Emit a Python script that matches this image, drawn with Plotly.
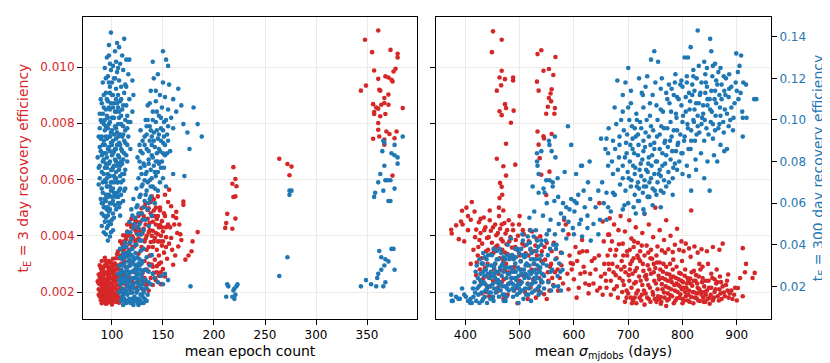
import plotly.graph_objects as go

RED = "#d62728"
BLUE = "#1f77b4"

# efficiencies are typed in small integer units:
#   3 day efficiency in units of 1e-5, 300 day efficiency in units of 1e-3
E3 = 1e-5
E300 = 1e-3

# left panel: (mean epoch count, 3 day efficiency)
left_red = [
    (86, 238), (87, 210), (87, 262), (88, 185), (88, 228), (88, 295), (89, 172), (89, 247), (89, 203),
    (90, 160), (90, 221), (90, 276), (90, 310), (91, 192), (91, 255), (91, 235), (92, 168), (92, 214),
    (92, 289), (92, 181), (93, 246), (93, 199), (93, 322), (94, 158), (94, 227), (94, 268), (94, 205),
    (95, 176), (95, 241), (95, 296), (96, 187), (96, 219), (96, 259), (96, 164), (97, 232), (97, 281),
    (97, 198), (98, 171), (98, 248), (98, 306), (99, 211), (99, 266), (99, 183), (100, 156), (100, 229),
    (100, 292), (100, 203), (101, 176), (101, 251), (101, 318), (102, 195), (102, 237), (102, 275),
    (103, 166), (103, 218), (103, 301), (104, 188), (104, 257), (104, 240), (105, 172), (105, 226),
    (105, 335), (106, 200), (106, 283), (107, 162), (107, 245), (108, 214), (108, 352), (109, 179),
    (109, 268), (110, 232), (110, 371), (111, 195), (112, 309), (89, 285), (91, 174), (93, 268),
    (95, 210), (97, 166), (99, 304), (101, 221), (103, 262), (106, 181), (108, 297),
    (87, 190), (87, 231), (88, 250), (88, 205), (89, 265), (89, 180), (90, 240), (90, 195), (91, 212),
    (91, 280), (91, 165), (92, 230), (92, 262), (93, 180), (93, 222), (93, 295), (94, 190), (94, 245),
    (94, 310), (95, 160), (95, 225), (95, 270), (96, 200), (96, 240), (96, 290), (97, 180), (97, 215),
    (97, 255), (97, 310), (98, 190), (98, 230), (98, 270), (99, 165), (99, 232), (99, 285), (100, 180),
    (100, 250), (100, 270), (101, 195), (101, 235), (101, 285), (102, 170), (102, 215), (102, 255),
    (102, 300), (103, 185), (103, 240), (103, 280), (104, 165), (104, 210), (104, 295), (105, 190),
    (105, 250), (105, 280), (106, 165), (106, 225), (106, 260), (107, 200), (107, 280), (107, 320),
    (108, 180), (108, 240), (108, 330), (109, 200), (109, 300), (110, 170), (110, 260), (111, 230),
    (111, 350), (112, 210), (112, 380), (113, 340), (113, 400), (114, 360), (115, 330), (115, 440),
    (116, 400), (117, 350), (118, 380), (119, 460), (120, 360), (121, 390), (122, 440), (123, 380),
    (124, 410), (125, 430), (126, 390), (127, 420), (128, 450), (129, 360), (130, 410), (131, 470),
    (132, 380), (133, 440), (134, 400), (135, 460), (136, 360), (137, 420), (138, 480), (139, 400),
    (140, 450), (141, 380), (142, 470), (143, 410), (144, 460), (145, 380), (146, 430), (147, 490),
    (148, 400), (149, 430), (150, 380), (151, 480), (153, 430), (136, 300), (138, 330), (140, 290),
    (142, 250), (144, 270), (146, 300), (148, 270), (134, 280), (132, 250), (130, 230),
    (104, 320), (106, 345), (108, 380), (110, 330), (111, 402), (112, 356), (113, 290), (114, 388),
    (115, 415), (116, 342), (117, 372), (118, 440), (119, 305), (120, 398), (121, 426), (122, 362),
    (123, 420), (124, 450), (125, 385), (126, 336), (127, 445), (128, 405), (129, 480), (130, 352),
    (130, 268), (131, 425), (132, 310), (132, 460), (133, 228), (133, 390), (134, 350), (135, 492),
    (135, 275), (136, 412), (136, 205), (137, 330), (137, 445), (138, 250), (138, 378), (139, 298),
    (139, 470), (140, 225), (140, 360), (140, 418), (141, 268), (141, 490), (142, 315), (142, 392),
    (143, 242), (143, 440), (144, 350), (144, 292), (145, 405), (145, 470), (146, 258), (146, 330),
    (147, 380), (147, 438), (148, 305), (148, 228), (149, 365), (149, 452), (150, 282), (150, 415),
    (151, 340), (152, 255), (152, 470), (153, 395), (154, 318), (155, 440), (156, 372), (128, 300),
    (126, 240), (124, 215), (122, 270), (120, 235), (118, 208), (116, 250), (114, 225), (112, 260),
    (131, 205), (134, 225), (127, 478), (119, 430), (117, 410), (123, 455), (129, 498), (126, 470),
    (133, 515), (136, 498), (138, 520), (141, 530), (143, 500), (132, 505), (145, 540), (147, 500),
    (139, 540),
    (152, 546), (156, 564), (155, 520), (158, 505), (160, 470), (161, 440), (163, 463), (164, 410),
    (165, 362), (158, 392), (160, 297), (162, 330), (167, 405), (170, 522), (170, 510), (172, 315),
    (175, 330), (178, 345), (179, 380), (184, 413), (168, 385), (163, 485), (157, 430), (153, 360),
    (166, 440), (159, 350),
    (219, 644), (221, 602), (218, 585), (222, 576), (219, 538), (221, 540), (213, 478), (221, 461),
    (212, 445), (211, 428), (218, 425),
    (264, 674), (272, 655), (276, 646), (274, 615),
    (361, 1130), (348, 1097), (355, 1053), (373, 1061), (380, 1047), (380, 1034), (378, 994), (376, 984),
    (357, 988), (349, 934), (344, 916), (361, 958), (368, 967), (371, 963), (374, 955), (375, 949),
    (371, 902), (367, 890), (362, 919), (363, 916), (359, 856), (361, 852), (357, 840), (357, 833),
    (367, 872), (371, 866), (368, 833), (363, 825), (361, 801), (385, 854), (364, 866), (356, 868),
    (369, 771), (372, 762), (379, 771), (356, 745), (362, 753), (367, 742), (367, 724), (377, 747),
    (375, 614), (361, 777),
]

# left panel: (mean epoch count, 300 day efficiency)
left_blue = [
    (99, 142), (112, 139), (107, 135), (103, 133), (97, 131), (110, 131), (95, 130), (114, 129),
    (104, 128), (101, 126), (108, 127), (93, 125), (99, 124), (105, 123), (111, 124), (116, 122),
    (96, 121), (102, 120), (107, 119), (120, 119), (113, 117), (91, 118), (98, 116), (104, 115),
    (109, 116), (94, 113), (100, 112), (106, 112), (112, 113), (117, 110), (89, 110), (96, 109),
    (102, 108), (108, 109), (114, 107), (92, 106), (98, 105), (104, 104), (110, 105), (88, 103),
    (95, 102), (101, 101), (107, 101), (113, 100), (118, 99), (90, 99), (97, 98), (103, 97), (109, 98),
    (93, 95), (99, 94), (105, 94), (111, 93), (116, 92), (87, 92), (95, 91), (101, 90), (107, 89),
    (113, 89), (91, 88), (97, 87), (103, 86), (109, 86), (89, 85), (94, 84), (100, 83), (106, 83),
    (112, 84), (92, 81), (98, 80), (104, 80), (110, 79), (115, 80), (88, 78), (95, 77), (101, 77),
    (107, 76), (113, 76), (90, 75), (96, 74), (102, 73), (108, 73), (93, 71), (99, 70), (105, 70),
    (111, 71), (87, 69), (95, 68), (101, 67), (107, 66), (91, 65), (97, 64), (103, 64), (109, 64),
    (89, 62), (94, 61), (100, 60), (106, 60), (92, 58), (98, 57), (104, 57), (90, 55), (96, 54),
    (102, 53), (108, 54), (93, 51), (99, 50), (95, 48), (101, 47), (92, 46), (98, 44), (96, 42),
    (86, 82), (120, 104), (118, 86), (115, 96), (94, 97), (100, 101), (106, 98), (98, 92), (104, 91),
    (92, 90), (110, 92), (96, 86), (102, 85), (108, 88), (90, 83), (94, 79), (100, 76), (106, 79),
    (112, 74), (98, 73), (104, 72), (92, 74), (96, 68), (102, 70), (108, 67), (94, 64), (100, 63),
    (106, 63), (98, 60), (103, 59), (91, 60), (95, 57), (101, 55), (97, 51), (94, 53), (99, 46),
    (113, 67), (111, 61), (115, 102), (88, 96), (121, 112), (117, 129), (97, 136), (105, 137),
    (89, 100), (90, 108), (90, 92), (91, 80), (91, 70), (92, 98), (92, 112), (93, 88), (93, 62),
    (93, 77), (94, 105), (94, 92), (95, 82), (95, 72), (95, 110), (96, 96), (96, 63), (97, 79),
    (97, 92), (97, 106), (98, 68), (98, 85), (98, 99), (99, 76), (99, 89), (99, 108), (100, 70),
    (100, 95), (101, 84), (101, 61), (101, 112), (102, 78), (102, 93), (102, 65), (103, 104),
    (103, 81), (103, 72), (104, 96), (104, 86), (104, 63), (105, 78), (105, 108), (105, 88), (106, 70),
    (106, 92), (107, 82), (107, 58), (107, 104), (108, 93), (108, 78), (109, 70), (109, 102), (110, 85),
    (110, 74), (111, 97), (111, 81), (112, 90), (112, 66), (113, 95), (114, 83), (115, 88), (116, 99),
    (90, 67), (92, 54), (94, 70), (96, 58), (97, 118), (100, 118), (103, 120), (94, 120), (98, 127),
    (106, 125), (101, 106), (91, 103), (89, 91), (88, 87), (88, 72), (90, 60), (87, 77), (95, 64),
    (99, 66), (105, 65), (108, 60), (96, 101), (100, 88), (102, 101), (106, 106), (109, 80), (104, 75),
    (98, 113), (92, 84), (93, 100), (109, 110), (111, 107), (114, 116), (104, 110), (90, 49), (94, 45),
    (97, 56), (100, 52), (93, 58), (99, 60), (96, 49),
    (150, 133), (153, 129), (140, 128), (155, 126), (145, 122), (141, 120), (150, 118), (156, 117),
    (165, 115), (138, 114), (147, 112), (152, 111), (143, 109), (160, 110), (135, 107), (149, 106),
    (155, 105), (140, 104), (146, 102), (180, 106), (158, 101), (133, 100), (143, 99), (151, 99),
    (170, 98), (184, 98), (137, 97), (148, 96), (160, 96), (128, 95), (141, 94), (154, 93), (174, 94),
    (132, 92), (145, 91), (137, 90), (150, 89), (127, 88), (142, 87), (134, 86), (147, 85), (130, 84),
    (139, 83), (152, 83), (125, 82), (136, 81), (145, 80), (131, 79), (141, 78), (128, 77), (138, 76),
    (148, 77), (133, 74), (143, 73), (126, 72), (137, 71), (171, 73), (160, 74), (130, 69), (140, 68),
    (124, 67), (134, 66), (145, 66), (128, 64), (138, 63), (121, 62), (132, 61), (142, 60), (125, 59),
    (135, 57), (119, 57), (129, 55), (139, 54), (123, 53), (133, 52), (117, 51), (127, 50), (136, 49),
    (121, 48), (131, 47), (115, 46), (125, 45), (119, 43), (129, 42), (113, 41), (123, 40), (132, 88),
    (146, 93), (155, 90), (136, 79), (127, 80), (150, 72), (139, 88), (129, 74), (144, 84), (134, 97),
    (157, 85), (163, 104), (168, 107), (176, 86), (188, 92),
    (130, 90), (132, 78), (134, 93), (135, 70), (136, 85), (137, 62), (138, 95), (139, 72), (140, 82),
    (141, 90), (142, 67), (143, 80), (144, 95), (145, 75), (146, 86), (147, 70), (148, 90), (149, 80),
    (150, 95), (151, 77), (152, 88), (153, 68), (154, 84), (131, 58), (133, 64), (126, 55), (129, 68),
    (134, 75), (138, 68), (142, 75), (146, 79), (150, 84), (135, 100), (140, 100), (144, 104),
    (148, 101), (153, 100), (137, 108), (143, 114), (127, 63), (122, 50), (124, 58), (130, 52),
    (118, 46), (120, 54), (126, 48), (136, 60), (132, 71), (128, 85), (139, 92), (151, 92), (155, 97),
    (108, 38), (111, 36), (114, 39), (117, 37), (120, 38), (123, 36), (110, 33), (113, 34), (116, 32),
    (119, 35), (122, 33), (125, 34), (128, 37), (107, 30), (109, 28), (112, 31), (115, 29), (118, 30),
    (121, 31), (124, 29), (127, 30), (130, 32), (106, 26), (109, 24), (111, 27), (114, 25), (117, 26),
    (120, 27), (123, 24), (126, 26), (129, 25), (132, 28), (108, 21), (110, 19), (113, 22), (116, 20),
    (118, 23), (121, 21), (124, 22), (127, 20), (130, 21), (133, 23), (107, 17), (110, 15), (112, 18),
    (115, 16), (117, 14), (120, 17), (122, 15), (125, 18), (128, 16), (131, 17), (134, 19), (109, 13),
    (114, 12), (119, 12), (124, 13), (129, 12), (132, 14), (111, 11), (126, 11), (116, 35), (119, 20),
    (112, 14), (122, 19), (118, 17), (125, 24), (115, 23), (128, 28), (113, 27), (120, 24), (126, 14),
    (131, 12), (117, 30), (123, 27), (110, 23), (121, 13), (135, 16), (136, 22), (138, 21), (140, 26),
    (142, 24), (145, 22), (148, 25), (150, 21), (152, 26), (155, 23), (137, 30), (139, 35),
    (108, 34), (109, 26), (110, 30), (111, 22), (112, 35), (113, 17), (114, 29), (115, 20), (116, 27),
    (117, 33), (118, 19), (119, 27), (120, 14), (121, 34), (122, 24), (123, 30), (124, 17), (125, 28),
    (126, 21), (127, 33), (128, 23), (129, 19), (130, 27), (131, 23), (132, 19), (133, 28), (111, 16),
    (113, 13), (116, 13), (118, 12), (121, 11), (123, 14), (125, 12), (128, 13), (130, 15), (134, 13),
    (112, 24), (114, 18), (117, 22), (119, 24), (122, 28), (124, 25), (126, 31), (129, 31), (120, 32),
    (115, 36), (111, 39), (118, 41), (124, 40), (127, 42), (129, 45), (131, 38), (134, 34), (136, 27),
    (109, 18), (107, 23),
    (177, 20), (212, 15), (213, 21), (214, 20), (219, 18), (220, 14), (221, 16), (222, 20), (223, 21),
    (220, 19), (218, 15), (264, 25), (272, 34), (274, 66), (276, 66), (274, 64),
    (344, 20), (349, 23), (354, 21), (359, 20), (360, 24), (361, 26), (364, 28), (367, 30), (371, 32),
    (374, 38), (376, 38), (362, 37), (364, 34), (368, 33), (377, 28), (366, 20), (368, 22), (357, 63),
    (358, 65), (361, 70), (363, 74), (366, 66), (371, 61), (373, 61), (377, 67), (368, 71), (370, 71),
    (380, 79), (380, 82), (377, 88), (367, 89), (365, 85), (374, 84), (377, 83), (385, 92), (366, 90),
    (367, 78), (373, 71),
]

# right panel: (mean sigma_mjdobs in days, 3 day efficiency)
right_red = [
    (451, 1127), (467, 1097), (449, 1053), (467, 987), (463, 963), (473, 957), (488, 963), (488, 952),
    (466, 935), (458, 916), (473, 868), (475, 854), (463, 843), (467, 829), (489, 845), (484, 802),
    (475, 727), (458, 674), (470, 647), (492, 653), (475, 614), (464, 588), (467, 574), (468, 546),
    (463, 534),
    (533, 1046), (540, 1060), (566, 1036), (544, 987), (554, 993), (562, 972), (532, 948), (535, 916),
    (559, 921), (557, 906), (554, 890), (558, 878), (552, 859), (565, 854), (549, 834), (564, 834),
    (533, 771), (544, 754), (545, 746), (559, 762), (535, 724), (537, 676), (540, 617), (555, 628),
    (549, 545),
    (374, 421), (375, 408), (383, 437), (388, 388), (392, 451), (394, 489), (402, 500), (405, 470),
    (410, 457), (417, 486), (420, 422), (418, 395), (425, 448), (428, 410), (431, 372), (434, 465),
    (437, 430), (440, 392), (442, 350), (445, 455), (447, 418), (449, 375), (452, 340), (455, 440),
    (457, 402), (459, 365), (462, 470), (464, 425), (466, 388), (468, 350), (470, 312), (472, 445),
    (474, 408), (476, 370), (478, 335), (480, 455), (483, 395), (486, 358), (488, 420), (490, 325),
    (493, 385), (496, 350), (499, 440), (502, 310), (505, 372), (508, 405), (511, 338), (514, 295),
    (517, 380), (520, 350), (523, 415), (526, 300), (529, 365), (532, 330), (535, 280), (538, 398),
    (541, 345), (544, 262), (547, 315), (550, 375), (553, 240), (556, 290), (559, 345), (562, 225),
    (565, 270), (568, 320), (571, 205), (574, 250), (577, 295), (580, 230), (424, 360), (430, 320),
    (436, 285), (441, 255), (446, 220), (433, 248), (427, 280), (421, 305), (438, 200), (444, 185),
    (455, 300), (461, 265), (467, 235), (473, 275), (485, 250), (495, 215), (505, 260), (515, 230),
    (525, 245), (535, 205), (545, 192), (555, 205), (515, 175), (496, 160), (478, 190), (458, 200),
    (451, 240), (489, 278),
    (420, 260), (423, 330), (426, 385), (429, 235), (432, 300), (435, 420), (438, 345), (441, 300),
    (443, 395), (446, 265), (448, 335), (451, 430), (453, 280), (456, 360), (458, 240), (460, 410),
    (463, 320), (465, 280), (467, 440), (469, 380), (471, 245), (473, 340), (475, 300), (477, 420),
    (479, 270), (481, 380), (484, 320), (487, 440), (490, 290), (492, 360), (494, 250), (497, 400),
    (500, 330), (503, 280), (506, 420), (509, 365), (512, 260), (516, 330), (519, 420), (522, 280),
    (527, 345), (531, 390), (536, 250), (540, 310), (546, 360), (552, 270), (558, 300), (563, 375),
    (570, 280), (576, 340), (428, 460), (445, 490), (462, 500), (500, 470), (470, 490), (415, 350),
    (410, 300), (405, 420), (398, 380), (395, 440), (412, 520), (430, 195), (450, 180), (470, 175),
    (490, 205), (510, 200), (530, 180), (550, 175), (440, 220), (460, 215), (480, 230), (500, 240),
    (520, 215), (540, 235), (560, 250),
    (585, 440), (590, 405), (592, 330), (596, 280), (600, 245), (603, 360), (606, 310), (609, 215),
    (612, 265), (615, 385), (618, 290), (621, 230), (624, 345), (627, 195), (630, 265), (633, 310),
    (636, 230), (640, 280), (643, 205), (646, 330), (650, 255), (653, 190), (656, 300), (659, 240),
    (588, 265), (598, 300), (610, 340), (620, 270), (628, 225), (638, 320), (648, 215), (655, 380),
    (590, 210), (605, 180), (582, 457), (653, 451), (665, 404), (647, 516), (616, 345), (594, 303),
    (663, 404), (666, 462), (670, 380), (674, 440), (678, 350), (682, 420), (686, 470), (690, 372),
    (694, 415), (698, 345), (702, 455), (706, 390), (710, 360), (714, 430), (718, 375), (722, 345),
    (726, 410), (730, 478), (734, 365), (738, 440), (742, 350), (746, 395), (750, 500), (754, 362),
    (758, 420), (762, 348), (766, 385), (770, 455), (774, 352), (778, 400), (782, 342), (786, 368),
    (790, 425), (794, 350), (798, 380), (802, 345), (806, 372), (812, 355), (816, 490), (822, 362),
    (828, 340), (835, 352), (845, 345), (856, 360), (868, 350), (874, 372),
    (680, 290), (684, 250), (688, 310), (692, 225), (695, 270), (698, 330), (700, 195), (702, 240),
    (704, 300), (706, 215), (708, 265), (710, 320), (712, 180), (714, 235), (716, 285), (718, 205),
    (720, 255), (722, 310), (724, 170), (726, 225), (728, 275), (730, 330), (732, 195), (734, 245),
    (736, 295), (738, 175), (740, 215), (742, 265), (744, 318), (746, 190), (748, 240), (750, 285),
    (752, 165), (754, 210), (756, 258), (758, 305), (760, 182), (762, 228), (764, 272), (766, 198),
    (768, 245), (770, 290), (772, 170), (774, 215), (776, 262), (778, 188), (780, 235), (782, 280),
    (784, 160), (786, 205), (788, 250), (790, 178), (792, 225), (794, 268), (796, 192), (798, 240),
    (800, 175), (802, 215), (804, 258), (806, 185), (808, 230), (810, 170), (812, 205), (814, 248),
    (816, 182), (818, 222), (820, 160), (822, 198), (824, 240), (826, 178), (828, 215), (830, 255),
    (832, 168), (834, 200), (836, 235), (838, 180), (840, 220), (842, 165), (845, 205), (848, 240),
    (850, 180), (853, 215), (856, 170), (859, 200), (862, 230), (865, 185), (868, 210), (872, 175),
    (876, 198), (880, 225), (885, 180), (890, 205), (895, 190), (900, 170), (906, 250), (911, 185),
    (902, 214), (884, 262), (911, 356), (917, 300), (915, 270), (929, 250), (933, 268), (703, 280),
    (717, 330), (733, 260), (747, 300), (763, 210), (779, 250), (795, 220), (811, 240), (827, 195),
    (843, 190), (859, 245), (871, 235), (689, 200), (697, 180), (709, 170), (725, 190), (741, 165),
    (757, 175), (773, 195), (789, 230), (805, 200), (821, 275), (837, 290), (853, 265), (869, 255),
    (883, 205), (662, 330), (665, 280), (668, 240), (671, 300), (674, 210), (677, 260), (660, 215),
    (657, 265), (730, 155), (760, 158), (800, 160), (850, 158), (770, 150),
    (690, 240), (693, 290), (697, 205), (701, 260), (705, 180), (707, 310), (711, 230), (713, 275),
    (715, 195), (719, 320), (721, 180), (723, 240), (727, 300), (729, 205), (731, 255), (735, 180),
    (737, 225), (739, 280), (741, 320), (745, 200), (747, 270), (749, 175), (751, 230), (753, 305),
    (755, 185), (757, 245), (759, 280), (761, 165), (763, 250), (765, 300), (767, 180), (769, 220),
    (771, 265), (773, 240), (775, 175), (777, 300), (779, 210), (781, 185), (783, 255), (785, 225),
    (787, 170), (789, 290), (791, 200), (793, 245), (795, 180), (797, 265), (799, 210), (801, 235),
    (803, 170), (805, 280), (807, 215), (809, 250), (811, 190), (813, 165), (815, 230), (817, 270),
    (819, 200), (821, 240), (823, 180), (825, 260), (827, 230), (829, 170), (831, 210), (833, 280),
    (835, 190), (837, 250), (839, 165), (841, 200), (843, 240), (846, 175), (849, 215), (852, 190),
    (855, 250), (858, 180), (861, 210), (864, 235), (867, 170), (870, 195), (874, 220), (878, 185),
    (882, 240), (887, 195), (892, 175), (897, 215), (703, 350), (711, 380), (725, 365), (737, 340),
    (752, 330), (768, 340), (783, 315), (799, 310), (815, 325), (831, 300), (847, 300), (863, 280),
    (664, 300), (667, 350), (673, 270), (676, 330), (679, 220), (683, 370), (687, 280), (691, 330),
    (668, 190), (681, 180), (694, 165), (707, 160), (715, 160),
]

# right panel: (mean sigma_mjdobs in days, 300 day efficiency)
right_blue = [
    (374, 16), (375, 13), (377, 13), (383, 15), (387, 14), (390, 14), (394, 19), (398, 16), (401, 15),
    (405, 13), (409, 12), (410, 14), (412, 12), (415, 15), (418, 17), (420, 13), (422, 19),
    (425, 20), (428, 26), (430, 17), (432, 31), (434, 22), (436, 15), (438, 28), (440, 19), (442, 35),
    (444, 24), (446, 14), (448, 30), (450, 21), (452, 38), (454, 26), (456, 17), (458, 33), (460, 23),
    (462, 15), (464, 29), (466, 36), (468, 20), (470, 27), (472, 16), (474, 33), (476, 24), (478, 40),
    (480, 18), (482, 29), (484, 22), (486, 35), (488, 15), (490, 27), (492, 31), (494, 20), (496, 38),
    (498, 25), (500, 17), (502, 32), (504, 22), (506, 42), (508, 28), (510, 19), (512, 35), (514, 25),
    (516, 16), (518, 30), (520, 38), (522, 21), (524, 27), (526, 44), (528, 18), (530, 33), (532, 24),
    (534, 39), (536, 20), (538, 29), (540, 35), (427, 23), (431, 13), (435, 25), (439, 33), (443, 17),
    (447, 27), (451, 15), (455, 31), (459, 19), (463, 38), (467, 25), (471, 13), (475, 29), (479, 21),
    (483, 34), (487, 19), (491, 24), (495, 16), (499, 36), (503, 26), (507, 14), (511, 30), (515, 21),
    (519, 41), (523, 17), (527, 31), (531, 26), (535, 16), (539, 23), (445, 20), (457, 22), (469, 31),
    (481, 26), (493, 27), (505, 18), (517, 24), (529, 22), (441, 26), (453, 29), (465, 18), (477, 35),
    (489, 33), (501, 28), (513, 40), (525, 33), (537, 27), (449, 25), (461, 27), (473, 20), (485, 29),
    (497, 21), (509, 34), (521, 26), (533, 30), (433, 36), (437, 21), (421, 30), (423, 24), (426, 33),
    (419, 27), (545, 25), (550, 30), (553, 22), (556, 38), (560, 28), (563, 20), (566, 33), (570, 25),
    (573, 31), (576, 18), (578, 36), (548, 42), (554, 47), (558, 18), (568, 40),
    (429, 21), (433, 27), (437, 18), (441, 30), (445, 24), (449, 35), (453, 19), (457, 27), (461, 33),
    (465, 22), (469, 16), (473, 29), (477, 19), (481, 33), (485, 24), (489, 18), (493, 34), (497, 29),
    (501, 21), (505, 35), (509, 24), (513, 31), (517, 19), (521, 33), (525, 22), (529, 28), (533, 19),
    (537, 33), (541, 26), (543, 31), (430, 31), (436, 34), (447, 17), (458, 37), (467, 30), (476, 15),
    (486, 27), (494, 23), (503, 38), (512, 16), (522, 36), (531, 37), (539, 17), (542, 22), (455, 24),
    (478, 26), (499, 19), (518, 27), (462, 21), (488, 21), (510, 26), (527, 24), (470, 34), (492, 38),
    (515, 44), (532, 42), (505, 45), (520, 47), (540, 40), (484, 43), (424, 16), (417, 22), (414, 19),
    (426, 12), (433, 14), (440, 12), (452, 13), (474, 13), (498, 12), (521, 13), (545, 19), (552, 35),
    (557, 27), (562, 40), (571, 20), (575, 27), (565, 45), (579, 28),
    (589, 97), (565, 92), (554, 90), (555, 88), (540, 85), (532, 84), (559, 85), (566, 82), (595, 88),
    (532, 80), (533, 78), (583, 75), (535, 74), (549, 71), (555, 71), (561, 70), (570, 72), (561, 68),
    (544, 67), (535, 65), (524, 68), (546, 65), (604, 74), (618, 66), (608, 64), (571, 63), (580, 60),
    (586, 58), (592, 57), (601, 56), (595, 62), (613, 52), (625, 54), (631, 42), (598, 48), (586, 43),
    (567, 38), (543, 54), (518, 53), (564, 61), (576, 55), (590, 51), (605, 60), (620, 58), (630, 62),
    (640, 58), (645, 66), (652, 70), (660, 65), (672, 65), (668, 56), (655, 60), (636, 50), (648, 52),
    (615, 44), (625, 48), (610, 50), (600, 45), (580, 47), (572, 50), (557, 52), (550, 45), (540, 42),
    (530, 47), (615, 78), (629, 80), (613, 78), (626, 70), (601, 61), (663, 58), (675, 64), (693, 59),
    (718, 61), (736, 63), (816, 66), (582, 53), (645, 45), (660, 52), (550, 60), (527, 56),
    (828, 143), (851, 139), (815, 135), (748, 133), (853, 133), (742, 129), (755, 128), (804, 130),
    (899, 132), (908, 131), (700, 125), (860, 127), (840, 128), (830, 126), (870, 125), (905, 126),
    (902, 123), (810, 130), (820, 124), (845, 125),
    (680, 119), (695, 118), (720, 120), (735, 121), (750, 118), (762, 120), (775, 117), (787, 122),
    (798, 119), (808, 121), (818, 117), (826, 120), (835, 118), (845, 116), (855, 121), (862, 119),
    (872, 117), (880, 120), (890, 116), (900, 114), (912, 118), (917, 117), (932, 110), (936, 110),
    (705, 114), (725, 113), (745, 112), (770, 113), (790, 111), (812, 113), (832, 112), (850, 110),
    (868, 112), (885, 111), (896, 108), (760, 115), (780, 115), (800, 116), (822, 114), (842, 113),
    (860, 114), (877, 114), (910, 104), (911, 101), (918, 101),
    (675, 106), (690, 104), (705, 108), (715, 103), (728, 106), (740, 102), (752, 107), (764, 104),
    (776, 108), (788, 103), (798, 107), (806, 104), (814, 109), (822, 105), (830, 108), (838, 103),
    (846, 107), (854, 104), (862, 108), (870, 102), (878, 105), (888, 100), (664, 96), (678, 98),
    (692, 95), (702, 100), (712, 96), (722, 99), (732, 94), (742, 97), (754, 100), (766, 96), (778, 99),
    (790, 95), (800, 99), (810, 96), (820, 100), (828, 97), (836, 101), (844, 96), (852, 99), (860, 95),
    (868, 98), (876, 94), (885, 97), (893, 95), (911, 92), (660, 91), (672, 90), (684, 92), (696, 89),
    (708, 91), (718, 93), (728, 90), (738, 92), (748, 89), (758, 93), (768, 90), (780, 92), (792, 89),
    (804, 92), (816, 90), (826, 93), (840, 90), (856, 91), (870, 88), (882, 86), (650, 91), (658, 86),
    (663, 84), (670, 80), (676, 86), (683, 82), (690, 78), (697, 84), (703, 80), (708, 86), (713, 77),
    (718, 83), (723, 79), (728, 85), (733, 76), (738, 82), (743, 78), (748, 86), (753, 80), (758, 76),
    (763, 84), (768, 79), (773, 87), (778, 81), (783, 77), (788, 85), (794, 80), (800, 84), (808, 78),
    (815, 86), (824, 81), (834, 84), (846, 80), (858, 83), (864, 80), (877, 85), (663, 78), (672, 74),
    (681, 76), (690, 72), (699, 75), (706, 71), (712, 74), (718, 70), (724, 73), (730, 71), (736, 75),
    (742, 72), (748, 74), (754, 70), (760, 73), (766, 71), (774, 75), (782, 72), (790, 76), (800, 74),
    (812, 73), (825, 76), (840, 72), (675, 64), (685, 69), (695, 66), (705, 68), (712, 64), (720, 67),
    (727, 65), (733, 68), (739, 63), (745, 67), (752, 64), (760, 66), (770, 68), (782, 64), (850, 66),
    (700, 60), (710, 58), (720, 61), (728, 57), (736, 63), (745, 59), (760, 58), (690, 57), (714, 55),
    (730, 55),
    (684, 88), (687, 100), (694, 82), (698, 93), (701, 72), (704, 88), (707, 97), (709, 78), (711, 84),
    (714, 92), (716, 68), (719, 88), (721, 76), (724, 96), (726, 81), (729, 68), (731, 87), (734, 100),
    (737, 79), (739, 70), (741, 88), (744, 83), (746, 95), (749, 66), (751, 80), (753, 92), (756, 74),
    (758, 86), (761, 97), (763, 78), (765, 65), (767, 89), (770, 83), (772, 96), (775, 70), (777, 90),
    (779, 104), (781, 85), (784, 95), (786, 79), (789, 101), (791, 88), (793, 110), (796, 93), (798, 84),
    (801, 102), (803, 90), (806, 111), (809, 98), (811, 86), (813, 105), (816, 95), (818, 112), (821, 99),
    (823, 90), (825, 108), (828, 102), (831, 94), (833, 113), (835, 98), (838, 107), (841, 100),
    (843, 118), (846, 110), (848, 93), (851, 105), (853, 114), (856, 98), (859, 110), (861, 102),
    (864, 117), (866, 96), (869, 106), (872, 110), (875, 99), (879, 112), (882, 103), (886, 115),
    (890, 106), (894, 101), (898, 118), (903, 110), (907, 113), (760, 105), (772, 110), (784, 112),
    (796, 117), (808, 118), (820, 121), (740, 108), (727, 112), (716, 100), (700, 106), (690, 112),
    (732, 116), (786, 118), (842, 122), (856, 126), (866, 123), (876, 121), (886, 122),
]

left_ticks = [100, 150, 200, 250, 300, 350]
right_ticks = [400, 500, 600, 700, 800, 900]
eff3_ticks = [0.002, 0.004, 0.006, 0.008, 0.010]
eff300_ticks = [0.02, 0.04, 0.06, 0.08, 0.10, 0.12, 0.14]


def split(points, unit):
    return [p[0] for p in points], [p[1] * unit for p in points]


FONT = "DejaVu Sans"
GRID = "#ebebeb"
marker_size = 4.6

fig = go.Figure()
x, y = split(left_red, E3)
fig.add_trace(go.Scatter(x=x, y=y, mode="markers", xaxis="x", yaxis="y",
                         marker=dict(color=RED, size=marker_size)))
x, y = split(left_blue, E300)
fig.add_trace(go.Scatter(x=x, y=y, mode="markers", xaxis="x", yaxis="y2",
                         marker=dict(color=BLUE, size=marker_size)))
x, y = split(right_red, E3)
fig.add_trace(go.Scatter(x=x, y=y, mode="markers", xaxis="x2", yaxis="y3",
                         marker=dict(color=RED, size=marker_size)))
x, y = split(right_blue, E300)
fig.add_trace(go.Scatter(x=x, y=y, mode="markers", xaxis="x2", yaxis="y4",
                         marker=dict(color=BLUE, size=marker_size)))

common_axis = dict(showline=True, linecolor="black", linewidth=1, mirror=True,
                   ticks="outside", ticklen=5, tickcolor="black", zeroline=False,
                   gridcolor=GRID, gridwidth=1)
ydom = [1 - 311 / 363, 1 - 9 / 363]
eff3_range = [0.00104, 0.01178]
eff300_range = [0.0043, 0.1495]

fig.update_layout(
    width=830, height=363,
    margin=dict(l=0, r=0, t=0, b=0),
    showlegend=False,
    plot_bgcolor="white", paper_bgcolor="white",
    font=dict(family=FONT, size=12, color="black"),
    xaxis=dict(common_axis, domain=[75 / 830, 409 / 830], range=[71.6, 399], anchor="y",
               tickvals=left_ticks, title=dict(text="mean epoch count", standoff=4)),
    yaxis=dict(common_axis, domain=ydom, range=eff3_range, anchor="x",
               tickvals=eff3_ticks, tickformat=".3f", tickfont=dict(color=RED),
               title=dict(text="t<sub>E</sub> = 3 day recovery efficiency",
                          font=dict(color=RED), standoff=8)),
    yaxis2=dict(overlaying="y", anchor="x", side="right", range=eff300_range,
                showgrid=False, showticklabels=False, ticks="", zeroline=False),
    xaxis2=dict(common_axis, domain=[428 / 830, 763 / 830], range=[346, 963], anchor="y3",
                tickvals=right_ticks,
                title=dict(text="mean <i>σ</i><sub>mjdobs</sub> (days)", standoff=4)),
    yaxis3=dict(common_axis, domain=ydom, range=eff3_range, anchor="x2",
                tickvals=eff3_ticks, showticklabels=False),
    yaxis4=dict(overlaying="y3", anchor="x2", side="right", range=eff300_range,
                showgrid=False, zeroline=False, ticks="outside", ticklen=5, tickcolor="black",
                tickvals=eff300_ticks, tickformat=".2f", tickfont=dict(color=BLUE),
                title=dict(text="t<sub>E</sub> = 300 day recovery efficiency",
                           font=dict(color=BLUE), standoff=8)),
)

fig.write_html("out.html")
